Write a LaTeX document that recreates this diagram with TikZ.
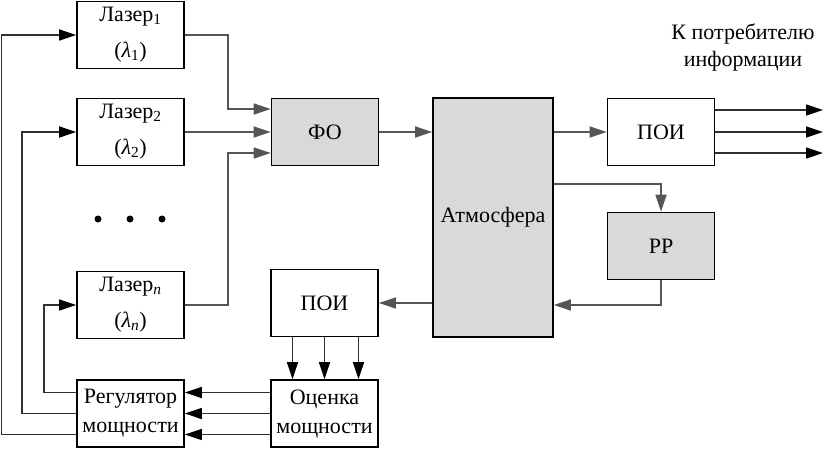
\documentclass[tikz,border=0pt]{standalone}
\usepackage{fontspec}
\setmainfont{Liberation Serif}
\usetikzlibrary{arrows.meta,calc}
\definecolor{boxgray}{HTML}{D9D9D9}
\definecolor{optgray}{HTML}{555555}
\definecolor{sigcol}{HTML}{303030}
\begin{document}
\begin{tikzpicture}[x=1pt,y=-1pt,
  box/.style={draw=black, line width=1.6pt, minimum width=107pt, minimum height=67pt,
    inner sep=0pt, align=center, font=\fontsize{22}{36}\selectfont},
  gbox/.style={box, fill=boxgray},
  two/.style={font=\fontsize{22}{29}\selectfont},
  opt/.style={line width=1.4pt, draw=optgray, -{Triangle[length=17pt,width=11pt,color=optgray]}},
  sig/.style={line width=1.4pt, draw=sigcol, -{Triangle[length=17pt,width=11pt,color=black]}},
  lbl/.style={align=center, inner sep=0pt, font=\fontsize{22}{27}\selectfont}]
\useasboundingbox (0,0) rectangle (825,450);
% nodes
\node[box] (L1) at (130.5,35) {Лазер\textsubscript{1}\\(\textit{λ}\textsubscript{1})};
\node[box] (L2) at (130.5,132) {Лазер\textsubscript{2}\\(\textit{λ}\textsubscript{2})};
\node[box] (Ln) at (130.5,305) {Лазер\textsubscript{\textit{n}}\\(\textit{λ}\textsubscript{\textit{n}})};
\node[box,two] (Reg) at (130.5,413.5) {Регулятор\\мощности};
\node[gbox] (FO) at (325,132) {ФО};
\node[gbox, minimum width=120pt, minimum height=239pt] (Atm) at (493,217.5) {Атмосфера};
\node[box] (P1) at (661,132) {ПОИ};
\node[gbox] (PP) at (661,246) {РР};
\node[box] (P2) at (324.5,303) {ПОИ};
\node[box,two] (Est) at (324.5,413.5) {Оценка\\мощности};
\node[lbl] (Out) at (743,47) {К потребителю\\информации};
% dots
\fill (98,219) circle (3.5pt);
\fill (130,219) circle (3.5pt);
\fill (162,219) circle (3.5pt);
% helper coordinates
\coordinate (jx) at (228,0);
\coordinate (tap) at (0,184);
\coordinate (ret) at (0,305);
\coordinate (f1) at (1.5,0);
\coordinate (f2) at (22,0);
\coordinate (f3) at (44,0);
\coordinate (oe) at (823,0);
% optical paths
\draw[opt] (L1.east) -- (L1.east -| jx) |- ([yshift=23pt]FO.west);
\draw[opt] (L2.east) -- (FO.west);
\draw[opt] (Ln.east) -- (Ln.east -| jx) |- ([yshift=-21pt]FO.west);
\draw[opt] (FO.east) -- (FO.east -| Atm.west);
\draw[opt] (P1.west -| Atm.east) -- (P1.west);
\draw[opt] (Atm.east |- tap) -| (PP.north);
\draw[opt] (PP.south) |- (Atm.east |- ret);
\draw[opt] (Atm.west |- P2.east) -- (P2.east);
% outputs
\draw[sig] ([yshift=22pt]P1.east) -- ([yshift=22pt]P1.east -| oe);
\draw[sig] (P1.east) -- (P1.east -| oe);
\draw[sig] ([yshift=-21pt]P1.east) -- ([yshift=-21pt]P1.east -| oe);
% POI -> estimate
\draw[sig] ([xshift=-32pt]P2.south) -- ([xshift=-32pt]Est.north);
\draw[sig] (P2.south) -- (Est.north);
\draw[sig] ([xshift=34pt]P2.south) -- ([xshift=34pt]Est.north);
% estimate -> regulator
\draw[sig] ([yshift=21pt]Est.west) -- ([yshift=21pt]Est.west -| Reg.east);
\draw[sig] (Est.west) -- (Est.west -| Reg.east);
\draw[sig] ([yshift=-21pt]Est.west) -- ([yshift=-21pt]Est.west -| Reg.east);
% feedback to lasers
\draw[sig] ([yshift=21pt]Reg.west) -| (f3 |- Ln.west) -- (Ln.west);
\draw[sig] (Reg.west) -| (f2 |- L2.west) -- (L2.west);
\draw[sig] ([yshift=-21pt]Reg.west) -| (f1 |- L1.west) -- (L1.west);
\end{tikzpicture}
\end{document}
